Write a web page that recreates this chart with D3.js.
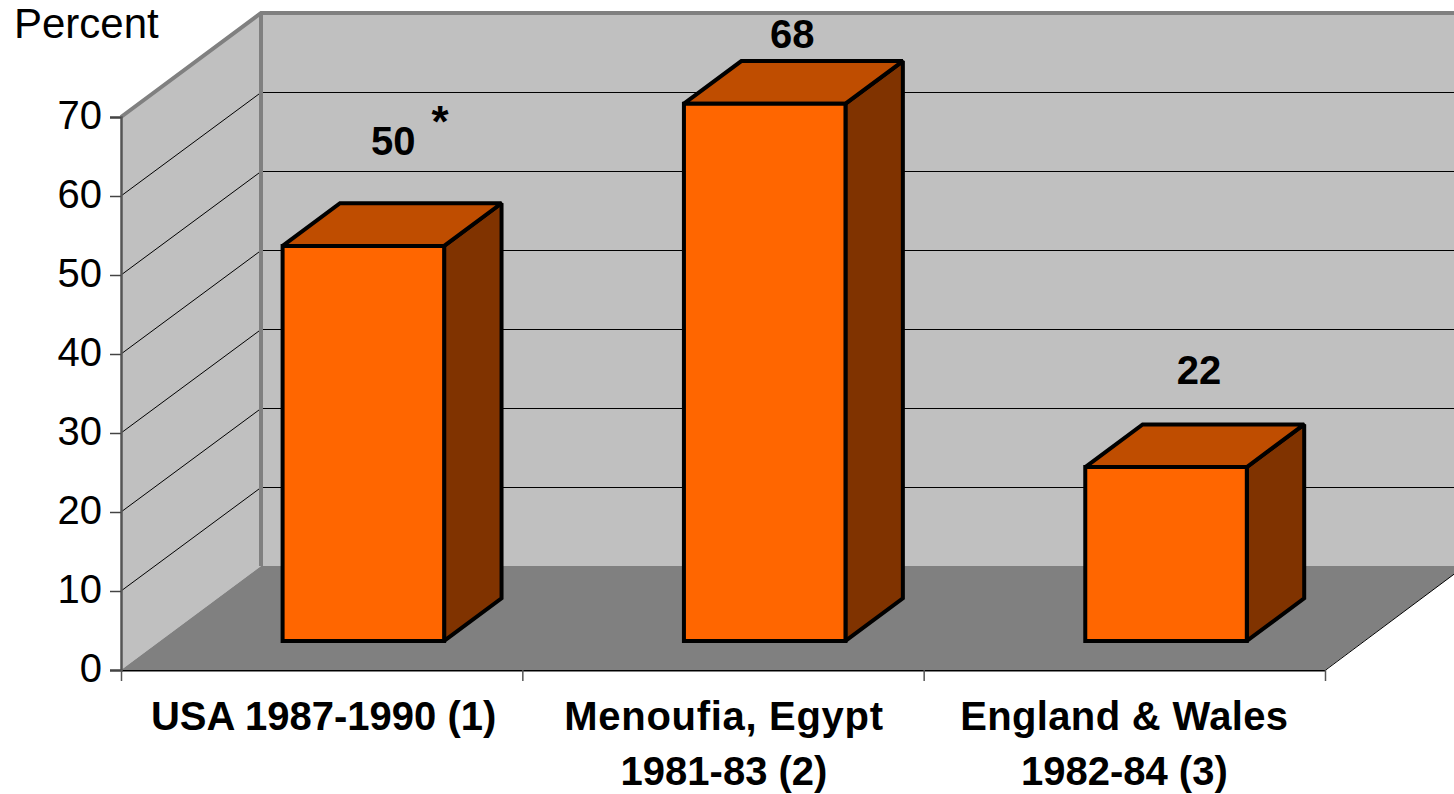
<!DOCTYPE html>
<html>
<head>
<meta charset="utf-8">
<script src="https://cdn.jsdelivr.net/npm/d3@7"></script>
<style>
html,body{margin:0;padding:0;background:#fff;overflow:hidden}
svg{display:block}
text{font-family:"Liberation Sans",Arial,sans-serif;fill:#000}
</style>
</head>
<body>
<svg id="chart" width="1454" height="794"></svg>
<script>
// Values shown on the chart
const categories = ["USA 1987-1990 (1)", "Menoufia, Egypt\n1981-83 (2)", "England & Wales\n1982-84 (3)"];
const percents = [50, 68, 22];
const valueLabels = ["50", "68", "22"];
const yTicks = [0, 10, 20, 30, 40, 50, 60, 70];

// Label placement relative to the top front of each bar
const labelNudgeX = [30, 27.5, 33];
const labelNudgeY = [-91, -56, -83];
const categoryNudgeX = [2, 1, 0];
const firstLineSpacing = [0, 0.7, 0.35];

// Chart frame: the front plane of the 3D box and its receding depth vector
const left = 121, right = 1325, base = 670, top70 = 117;
const depthX = 140, depthY = -104;
const width = 1454, height = 794;

const colors = {
  wall: "#c0c0c0", floor: "#808080", edge: "#808080",
  front: "#ff6600", top: "#bf4d00", side: "#803300"
};

const svg = d3.select("#chart");
const y = d3.scaleLinear().domain([0, 70]).range([base, top70]);
const x = d3.scaleBand().domain(d3.range(categories.length)).range([left, right]).paddingInner(0.595).paddingOuter(0.2975);
const boundaries = d3.scaleLinear().domain([0, categories.length]).range([left, right]);

// Project a point on the front plane back along the depth direction
const project = (px, py, d) => [px + depthX * d, py + depthY * d];
const poly = pts => d3.line()(pts) + "Z";

// Back wall and left wall
svg.append("path").attr("fill", colors.wall)
  .attr("d", poly([[left + depthX, base + depthY], [left + depthX, top70 + depthY], [width, top70 + depthY], [width, base + depthY]]));
svg.append("path").attr("fill", colors.wall)
  .attr("d", poly([[left, base], [left, top70], project(left, top70, 1), project(left, base, 1)]));

// Floor
svg.append("path").attr("fill", colors.floor)
  .attr("d", poly([[left, base], [right, base], project(right, base, 1), project(left, base, 1)]));

// Gridlines wrap from the left wall onto the back wall; the back run is pixel aligned
const grid = svg.append("g").attr("stroke", "#000").attr("stroke-width", 1).attr("fill", "none");
yTicks.filter(t => t > 0 && t < 70).forEach(t => {
  const [bx, by] = project(left, y(t), 1);
  const crisp = Math.round(by) + 0.5;
  grid.append("path").attr("d", d3.line()([[left, y(t)], [bx, crisp], [width, crisp]]));
});

// Thick wall edges
svg.append("path").attr("fill", "none").attr("stroke", colors.edge).attr("stroke-width", 4)
  .attr("d", d3.line()([[left, top70], project(left, top70, 1), [width, top70 + depthY]]));
svg.append("path").attr("fill", "none").attr("stroke", colors.edge).attr("stroke-width", 4)
  .attr("d", d3.line()([project(left, top70, 1), project(left, base, 1)]));

// Front and right rims of the floor
svg.append("path").attr("fill", "none").attr("stroke", "#808080").attr("stroke-width", 1)
  .attr("d", d3.line()([[left, base + 1.5], [right, base + 1.5]]));
svg.append("path").attr("fill", "none").attr("stroke", "#000").attr("stroke-width", 1)
  .attr("d", d3.line()([[left, base + 0.5], [right, base + 0.5], project(right, base, 1)]));

// Value axis
const yAxis = svg.append("g").attr("transform", `translate(${left},0)`)
  .call(d3.axisLeft(y).tickValues(yTicks).tickSize(11).tickPadding(8).tickFormat(d3.format("d")));
yAxis.select(".domain").attr("stroke", "#555").attr("stroke-width", 2.5);
yAxis.selectAll(".tick line").attr("stroke", "#444").attr("stroke-width", 1.5);
yAxis.selectAll("text").attr("font-size", 40).attr("font-family", "Liberation Sans").attr("dy", "0.28em");

// Category axis ticks sit on the band boundaries
const xAxis = svg.append("g").attr("transform", `translate(0,${base})`)
  .call(d3.axisBottom(boundaries).ticks(categories.length).tickSize(11).tickFormat(""));
xAxis.select(".domain").remove();
xAxis.selectAll(".tick line").attr("stroke", "#555").attr("stroke-width", 1.5);

// Bars
const barNear = 0.28, barFar = 0.69, barShift = 3;
const bars = svg.append("g").attr("stroke", "#000").attr("stroke-width", 4)
  .attr("stroke-linejoin", "miter").attr("stroke-miterlimit", 2.2);
percents.forEach((v, i) => {
  const x0 = x(i) + barShift, x1 = x0 + x.bandwidth() - 1;
  const y0 = y(0), y1 = y(v);
  const f = (px, py) => project(px, py, barNear);
  const b = (px, py) => project(px, py, barFar);
  bars.append("path").attr("fill", colors.side).attr("d", poly([f(x1, y0), f(x1, y1), b(x1, y1), b(x1, y0)]));
  bars.append("path").attr("fill", colors.top).attr("d", poly([f(x0, y1), f(x1, y1), b(x1, y1), b(x0, y1)]));
  bars.append("path").attr("fill", colors.front).attr("d", poly([f(x0, y0), f(x1, y0), f(x1, y1), f(x0, y1)]));

  const [fx, fy] = f((x0 + x1) / 2, y1);
  svg.append("text").attr("x", fx + labelNudgeX[i]).attr("y", fy + labelNudgeY[i])
    .attr("text-anchor", "middle").attr("font-size", 40).attr("font-weight", "bold").text(valueLabels[i]);
});

// Footnote marker beside the first value
svg.append("text").attr("x", 440).attr("y", 137).attr("text-anchor", "middle").attr("font-size", 44).attr("font-weight", "bold").text("*");

// Axis title
svg.append("text").attr("x", 14).attr("y", 38).attr("font-size", 42).text("Percent");

// Category labels, one or two lines
categories.forEach((c, i) => {
  const t = svg.append("text").attr("text-anchor", "middle").attr("font-size", 40).attr("font-weight", "bold");
  c.split("\n").forEach((line, k) => {
    t.append("tspan").attr("x", x(i) + x.bandwidth() / 2 + categoryNudgeX[i]).attr("y", 730 + k * 55)
      .attr("letter-spacing", k === 0 ? firstLineSpacing[i] : 0).text(line);
  });
});
</script>
</body>
</html>
